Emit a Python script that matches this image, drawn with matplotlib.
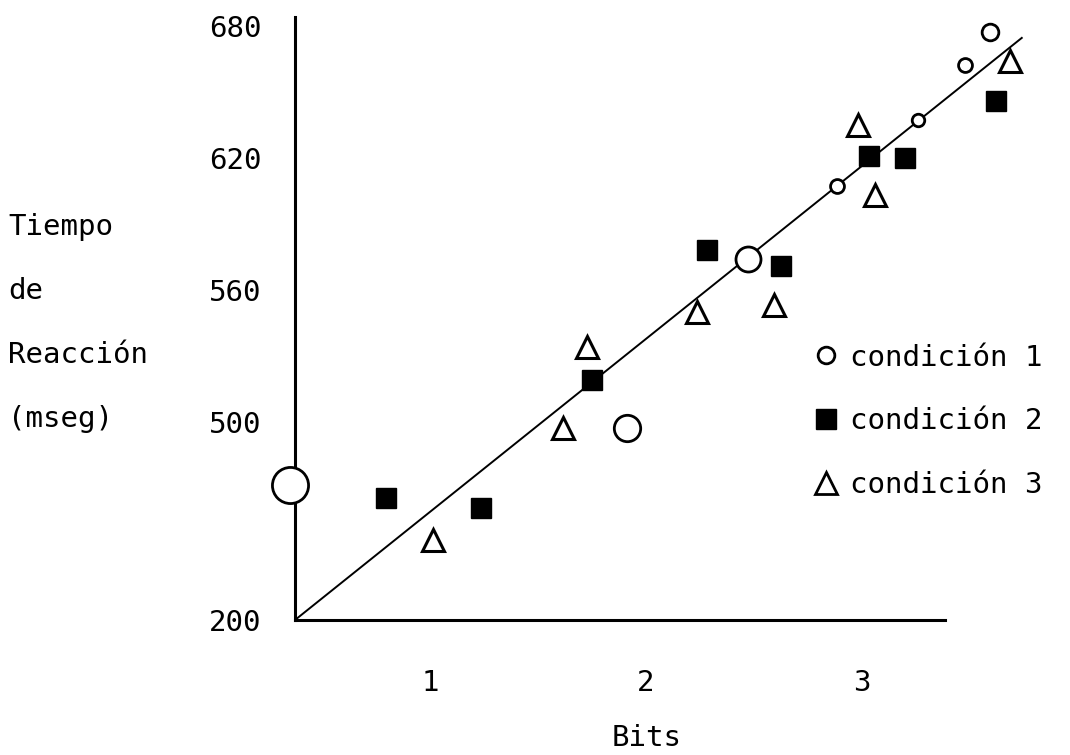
#!/usr/bin/env python3

import matplotlib
matplotlib.use("Agg")
import matplotlib.pyplot as plt
import numpy as np
from matplotlib.lines import Line2D

# datos (bits, tiempo de reaccion en mseg)
c1_bits = [0.352, 1.912, 2.472, 2.884, 3.259, 3.477, 3.593]
c1_tr = [404, 491, 574, 607, 637, 662, 677]

c2_bits = [0.796, 1.236, 1.750, 2.282, 2.625, 3.032, 3.199, 3.620]
c2_tr = [385, 370, 519, 578, 571, 621, 620, 646]

c3_bits = [1.014, 1.616, 1.727, 2.236, 2.593, 2.981, 3.060, 3.685]
c3_tr = [321, 491, 534, 550, 553, 635, 603, 664]

# recta de ajuste (extremos)
fit_bits = [0.375, 3.74]
fit_tr = [200, 674.5]

yticks = [200, 500, 560, 620, 680]
xticks = [1, 2, 3]
labels = ["condición 1", "condición 2", "condición 3"]

# tamaños de los circulos (dibujados a mano en el original)
circle_ms = [26, 19, 18, 10, 9, 10, 12]

FONT = "DejaVu Sans Mono"
FS = 21


# eje y partido: 200-500 comprimido, 500-680 expandido
def fwd(y):
    y = np.asarray(y, dtype=float)
    return np.where(y < 500, (y - 200) * 0.66, 198 + (y - 500) * 2.2)


def inv(v):
    v = np.asarray(v, dtype=float)
    return np.where(v < 198, 200 + v / 0.66, 500 + (v - 198) / 2.2)


fig = plt.figure(figsize=(10.7, 7.55), dpi=100)
ax = fig.add_axes([295 / 1070, 135 / 755, 765 / 1070, 603 / 755])
ax.set_yscale("function", functions=(fwd, inv))
ax.set_xlim(0.375, 3.917)
ax.set_ylim(200, 684)

ax.plot(fit_bits, fit_tr, color="black", lw=1.4, zorder=2)

for x, y, ms in zip(c1_bits, c1_tr, circle_ms):
    ax.plot(x, y, "o", ms=ms, mfc="white", mec="black", mew=2.0, zorder=3,
            clip_on=False)
ax.plot(c2_bits, c2_tr, "s", ms=14, color="black", zorder=3)
ax.plot(c3_bits, c3_tr, "^", ms=16, mfc="white", mec="black", mew=2.2,
        zorder=3)

for s in ["top", "right"]:
    ax.spines[s].set_visible(False)
ax.spines["left"].set_linewidth(2.2)
ax.spines["bottom"].set_linewidth(2.2)
ax.spines["bottom"].set_bounds(0.375, 3.384)

ax.set_xticks(xticks)
ax.set_yticks(yticks)
ax.yaxis.set_minor_locator(matplotlib.ticker.NullLocator())
ax.set_yticklabels([str(t) for t in yticks])
ax.tick_params(axis="y", length=0, pad=24, labelsize=FS)
ax.tick_params(axis="x", length=0, pad=35, labelsize=FS)
for lab in ax.get_xticklabels() + ax.get_yticklabels():
    lab.set_fontfamily(FONT)

ax.set_xlabel("Bits", fontsize=FS, fontfamily=FONT, va="center")
ax.xaxis.set_label_coords(0.459, -0.196)

ax.set_ylabel("Tiempo\nde\nReacción\n(mseg)", fontsize=FS, fontfamily=FONT,
              rotation=0, ha="left", va="center", linespacing=2.64)
ax.yaxis.set_label_coords(-0.375, 0.493)

handles = [
    Line2D([], [], marker="o", ls="none", ms=12, mfc="white", mec="black", mew=2),
    Line2D([], [], marker="s", ls="none", ms=14, color="black"),
    Line2D([], [], marker="^", ls="none", ms=16, mfc="white", mec="black", mew=2),
]
leg = ax.legend(handles, labels, loc="upper left", bbox_to_anchor=(0.644, 0.502),
                frameon=False, handlelength=0.8, handletextpad=0.45,
                labelspacing=1.23, prop={"family": FONT, "size": FS})

fig.savefig("out.png", dpi=100)
